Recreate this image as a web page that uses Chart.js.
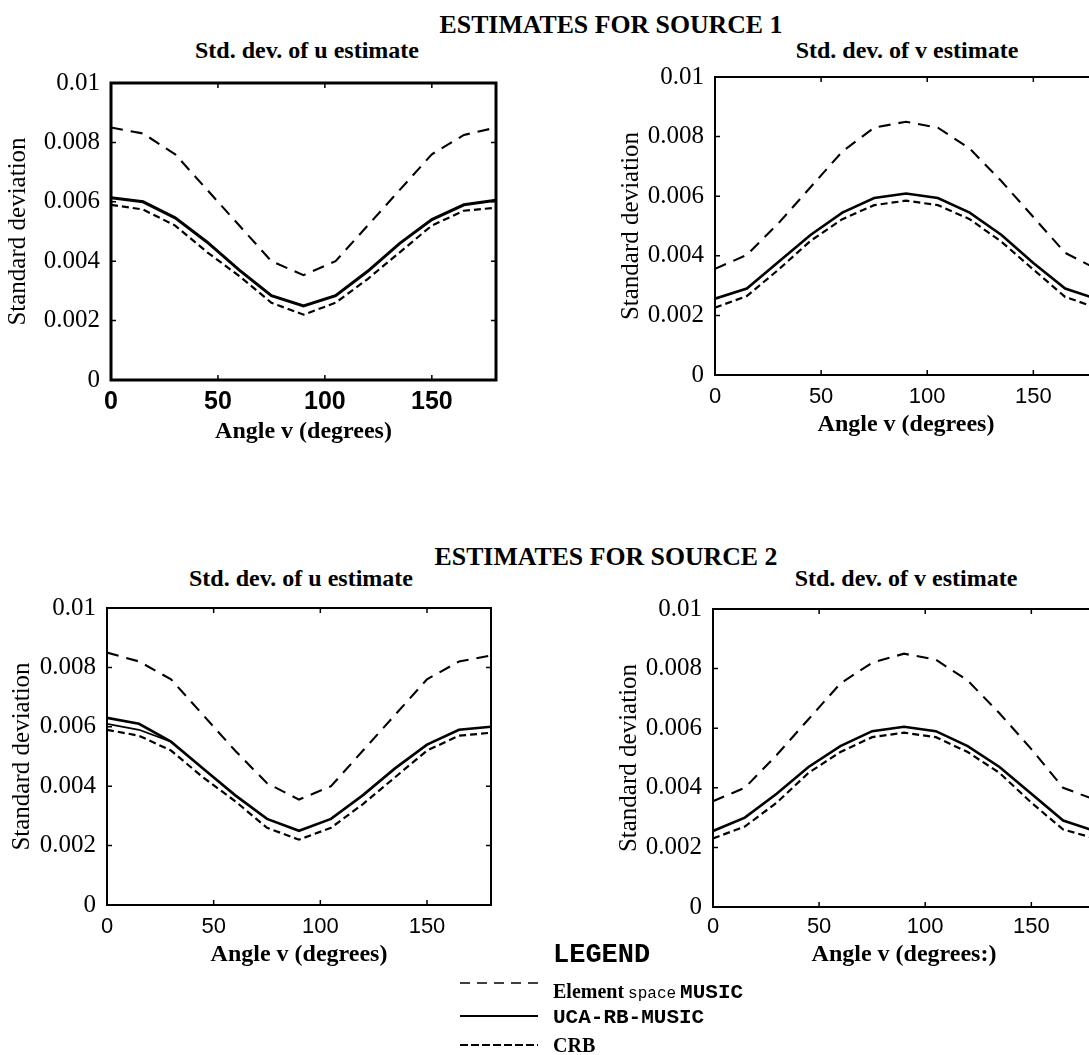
<!DOCTYPE html>
<html><head><meta charset="utf-8">
<script src="https://cdn.jsdelivr.net/npm/chart.js@4.4.1/dist/chart.umd.min.js"></script>
<style>
html,body{margin:0;padding:0;width:1089px;height:1055px;overflow:hidden;background:#fff;}
#page{position:relative;width:1089px;height:1055px;overflow:hidden;background:#fff;}
canvas{position:absolute;}
.t{position:absolute;white-space:nowrap;color:#000;font-family:"Liberation Serif","Times New Roman",serif;font-weight:bold;transform:translate(-50%,-50%);line-height:1;}
.l{position:absolute;white-space:nowrap;color:#000;transform:translate(0,-50%);line-height:1;}
.mono{font-family:"Liberation Mono","Courier New",monospace;font-weight:bold;}
.serif{font-family:"Liberation Serif","Times New Roman",serif;font-weight:bold;}
svg{position:absolute;}
</style></head>
<body><div id="page">
<div class="t" style="left:611px;top:25px;font-size:25.8px;">ESTIMATES FOR SOURCE 1</div>
<div class="t" style="left:307px;top:50px;font-size:24px;">Std. dev. of u estimate</div>
<div class="t" style="left:907px;top:50px;font-size:24px;">Std. dev. of v estimate</div>
<div class="t" style="left:606px;top:557px;font-size:25.8px;">ESTIMATES FOR SOURCE 2</div>
<div class="t" style="left:301px;top:578px;font-size:24px;">Std. dev. of u estimate</div>
<div class="t" style="left:906px;top:578px;font-size:24px;">Std. dev. of v estimate</div>

<canvas id="c1" width="502" height="393" style="left:0px;top:57px;"></canvas>
<canvas id="c2" width="490" height="394" style="left:613px;top:51px;"></canvas>
<canvas id="c3" width="497" height="393" style="left:0px;top:582px;"></canvas>
<canvas id="c4" width="490" height="394" style="left:611px;top:583px;"></canvas>

<div class="l mono" style="left:553px;top:955px;font-size:27px;">LEGEND</div>
<svg style="left:455px;top:970px;" width="90" height="85">
  <line x1="5" y1="13" x2="83" y2="13" stroke="#000" stroke-width="1.6" stroke-dasharray="10,7"/>
  <line x1="5" y1="46" x2="83" y2="46" stroke="#000" stroke-width="1.8"/>
  <line x1="5" y1="75" x2="83" y2="75" stroke="#000" stroke-width="2.2" stroke-dasharray="8,3"/>
</svg>
<div class="l" style="left:553px;top:992px;"><span class="serif" style="font-size:20px;">Element</span> <span class="mono" style="font-size:16px;font-weight:normal;">space</span> <span class="mono" style="font-size:21px;">MUSIC</span></div>
<div class="l mono" style="left:553px;top:1017px;font-size:21px;">UCA-RB-MUSIC</div>
<div class="l serif" style="left:553px;top:1045px;font-size:20px;">CRB</div>
</div>
<script>
// ---- data ----
const angles = [0, 15, 30, 45, 60, 75, 90, 105, 120, 135, 150, 165, 180];
const xTickVals = [0, 50, 100, 150];
const xTickLabels = ['0', '50', '100', '150'];
const yTickVals = [0, 0.002, 0.004, 0.006, 0.008, 0.01];
const yTickLabels = ['0', '0.002', '0.004', '0.006', '0.008', '0.01'];
const seriesNames = ['Element space MUSIC', 'UCA-RB-MUSIC', 'CRB'];

// Source 1, std. dev. of u
const s1uElem = [0.0085, 0.0083, 0.0076, 0.0064, 0.0052, 0.0040, 0.00353, 0.0040, 0.0052, 0.0064, 0.0076, 0.00825, 0.0085];
const s1uUca  = [0.00614, 0.0060, 0.00546, 0.00464, 0.0037, 0.00284, 0.00249, 0.00284, 0.00366, 0.0046, 0.0054, 0.0059, 0.00605];
const s1uCrb  = [0.0059, 0.00574, 0.0052, 0.0043, 0.0035, 0.0026, 0.0022, 0.0026, 0.0034, 0.0043, 0.0052, 0.0057, 0.0058];
// Source 1, std. dev. of v
const s1vElem = [0.00356, 0.00403, 0.0051, 0.0063, 0.0075, 0.0083, 0.0085, 0.0083, 0.0076, 0.0065, 0.0053, 0.0041, 0.00355];
const s1vUca  = [0.00256, 0.0029, 0.0038, 0.0047, 0.00545, 0.00594, 0.00609, 0.00594, 0.00545, 0.0047, 0.00376, 0.0029, 0.00255];
const s1vCrb  = [0.00226, 0.00265, 0.00354, 0.0045, 0.00523, 0.0057, 0.00585, 0.0057, 0.00523, 0.00447, 0.00354, 0.00262, 0.00225];
// Source 2, std. dev. of u
const s2uElem = [0.0085, 0.0082, 0.0076, 0.0064, 0.0052, 0.0041, 0.00355, 0.0040, 0.0052, 0.0064, 0.0076, 0.0082, 0.0084];
const s2uUca  = [0.0063, 0.0061, 0.0055, 0.0046, 0.0037, 0.0029, 0.0025, 0.0029, 0.0037, 0.0046, 0.0054, 0.0059, 0.0060];
const s2uUcaAltAngles = [0, 15, 30];
const s2uUcaAlt = [0.0061, 0.0059, 0.0055];
const s2uCrb  = [0.0059, 0.0057, 0.0052, 0.0043, 0.0035, 0.0026, 0.0022, 0.0026, 0.0034, 0.0043, 0.0052, 0.0057, 0.0058];
// Source 2, std. dev. of v
const s2vElem = [0.00355, 0.0040, 0.0051, 0.0063, 0.0075, 0.0082, 0.0085, 0.0083, 0.0076, 0.0065, 0.0053, 0.0040, 0.0036];
const s2vUca  = [0.00255, 0.0030, 0.0038, 0.0047, 0.0054, 0.0059, 0.00605, 0.0059, 0.0054, 0.0047, 0.0038, 0.0029, 0.00255];
const s2vCrb  = [0.0023, 0.0027, 0.0035, 0.0045, 0.0052, 0.0057, 0.00585, 0.0057, 0.0052, 0.0045, 0.0035, 0.0026, 0.0023];

// ---- drawing ----
const pts = (xs, ys) => xs.map((a, i) => ({x: a, y: ys[i]}));

const framePlugin = {
  id: 'frame',
  afterDatasetsDraw(chart, args, o) {
    const {ctx, chartArea: {left, right, top, bottom}} = chart;
    const xs = chart.scales.x, ys = chart.scales.y;
    ctx.save();
    ctx.strokeStyle = '#000';
    ctx.lineWidth = o.width || 2;
    ctx.strokeRect(left, top, right - left, bottom - top);
    ctx.lineWidth = 1.5;
    ctx.beginPath();
    xTickVals.forEach(v => {
      const p = xs.getPixelForValue(v);
      ctx.moveTo(p, bottom); ctx.lineTo(p, bottom - 5);
      ctx.moveTo(p, top); ctx.lineTo(p, top + 5);
    });
    yTickVals.forEach(v => {
      const p = ys.getPixelForValue(v);
      ctx.moveTo(left, p); ctx.lineTo(left + 5, p);
      ctx.moveTo(right, p); ctx.lineTo(right - 5, p);
    });
    ctx.stroke();
    ctx.restore();
  }
};

const SERIF = '"Liberation Serif", "Times New Roman", serif';
const SANS = '"Liberation Sans", Arial, sans-serif';

function makePanel(id, cfg) {
  const datasets = [
    {label: seriesNames[0], data: pts(angles, cfg.elem), borderColor: '#000', borderWidth: 2.1, borderDash: [12, 8]},
    {label: seriesNames[1], data: pts(angles, cfg.uca), borderColor: '#000', borderWidth: cfg.ucaWidth || 2.6},
    {label: seriesNames[2], data: pts(angles, cfg.crb), borderColor: '#000', borderWidth: 2.2, borderDash: [7, 4]}
  ];
  if (cfg.ucaAlt) {
    datasets.push({label: seriesNames[1], data: pts(cfg.ucaAltX, cfg.ucaAlt), borderColor: '#000', borderWidth: 1.8});
  }
  datasets.forEach(d => { d.pointRadius = 0; d.tension = 0; d.fill = false; });
  new Chart(document.getElementById(id), {
    type: 'line',
    data: {datasets},
    plugins: [framePlugin],
    options: {
      responsive: false,
      animation: false,
      events: [],
      layout: {padding: {top: 18, right: 6, left: 0, bottom: 0}},
      plugins: {legend: {display: false}, tooltip: {enabled: false}, frame: {width: cfg.frameWidth}},
      scales: {
        x: {
          type: 'linear', position: 'bottom', min: 0, max: 180,
          grid: {display: false, drawTicks: false}, border: {display: false},
          afterBuildTicks: s => { s.ticks = xTickVals.map(v => ({value: v})); },
          afterFit: s => { s.height = 70; },
          ticks: {color: '#000', padding: cfg.xPad, maxRotation: 0, autoSkip: false,
                  font: {family: SANS, size: cfg.xFont, weight: cfg.xBold ? 'bold' : 'normal'},
                  callback: (v, i) => xTickLabels[i]},
          title: {display: true, text: cfg.xTitle, color: '#000',
                  font: {family: SERIF, size: 24, weight: 'bold'},
                  padding: {top: 0, bottom: cfg.xTitlePad}}
        },
        y: {
          type: 'linear', position: 'left', min: 0, max: 0.01,
          grid: {display: false, drawTicks: false}, border: {display: false},
          afterBuildTicks: s => { s.ticks = yTickVals.map(v => ({value: v})); },
          afterFit: s => { s.width = cfg.yWidth; },
          ticks: {color: '#000', padding: 11, font: {family: SERIF, size: 25},
                  callback: (v, i) => yTickLabels[i]},
          title: {display: true, text: 'Standard deviation', color: '#000',
                  font: {family: SERIF, size: 25},
                  padding: {top: cfg.yTitlePad, bottom: 0}}
        }
      }
    }
  });
}

makePanel('c1', {elem: s1uElem, uca: s1uUca, crb: s1uCrb, ucaWidth: 3, frameWidth: 3,
  xPad: 7, xFont: 25, xBold: true, xTitle: 'Angle v (degrees)', xTitlePad: 4, yWidth: 111, yTitlePad: 3});
makePanel('c2', {elem: s1vElem, uca: s1vUca, crb: s1vCrb, frameWidth: 2,
  xPad: 9, xFont: 22, xTitle: 'Angle v (degrees)', xTitlePad: 6, yWidth: 102, yTitlePad: 3});
makePanel('c3', {elem: s2uElem, uca: s2uUca, crb: s2uCrb, ucaAlt: s2uUcaAlt, ucaAltX: s2uUcaAltAngles, frameWidth: 2,
  xPad: 9, xFont: 22, xTitle: 'Angle v (degrees)', xTitlePad: 6, yWidth: 107, yTitlePad: 7});
makePanel('c4', {elem: s2vElem, uca: s2vUca, crb: s2vCrb, frameWidth: 2,
  xPad: 7, xFont: 22, xTitle: 'Angle v (degrees:)', xTitlePad: 8, yWidth: 102, yTitlePad: 3});
</script>
</body></html>
